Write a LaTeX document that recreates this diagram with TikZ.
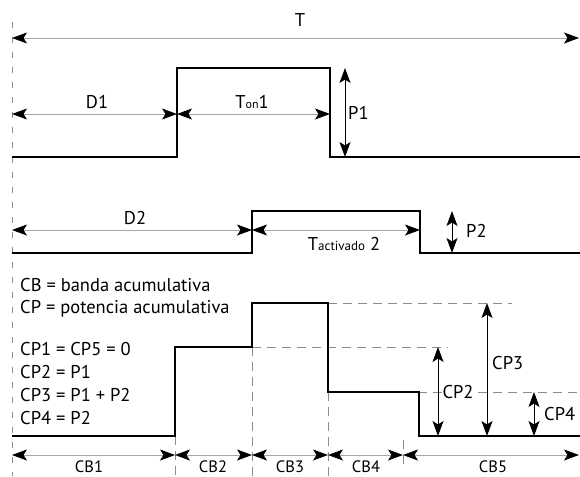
\documentclass[tikz,border=0pt]{standalone}
\usepackage{fontspec}
\setmainfont{PT Sans}
\usetikzlibrary{arrows.meta}

\tikzset{
  tip/.tip={Stealth[length=15pt,width=11pt,inset=3.5pt,black]},
}

\begin{document}
\begin{tikzpicture}[x=1pt,y=-1pt,
  wave/.style={line width=1.8pt, line join=miter},
  dimline/.style={draw=gray!70, line width=0.8pt, tip-tip},
  pline/.style={draw=black, line width=0.9pt, tip-tip},
  guide/.style={draw=gray!90, line width=0.8pt, dash pattern=on 9pt off 6pt},
  axisline/.style={draw=gray!90, line width=0.8pt, dash pattern=on 6pt off 9pt},
  lbl/.style={font=\fontsize{18.5}{22}\selectfont, inner sep=1pt},
  band/.style={font=\fontsize{16.5}{20}\selectfont, inner sep=0pt, anchor=base}]
	\useasboundingbox (0,0) rectangle (580,476);

	% time origin
	\draw[axisline] (12,22) -- (12,476);
	\draw[dimline] (12,38) -- (579,38);
	\node[lbl] (t) at (300,20) {T};

	% first pulse
	\draw[wave] (12,157) -- (177,157) -- (177,68) -- (330,68) -- (330,157) -- (580,157);
	\draw[dimline] (12,114) -- (177,114);
	\draw[dimline] (177,114) -- (330,114);
	\draw[pline] (345,68) -- (345,157);
	\node[lbl] (d1) at (97,102) {D1};
	\node[lbl] (ton) at (252,102) {T{\fontsize{12}{14}\selectfont on}1};
	\node[lbl, anchor=west] (p1) at (347,113) {P1};

	% second pulse
	\draw[wave] (12,253) -- (252,253) -- (252,211) -- (420,211) -- (420,253) -- (580,253);
	\draw[dimline] (12,230) -- (252,230);
	\draw[dimline] (252,230) -- (420,230);
	\draw[pline] (452,211) -- (452,253);
	\node[lbl] (d2) at (135,218) {D2};
	\node[lbl] (tact) at (344,244) {T{\fontsize{13}{15}\selectfont activado} 2};
	\node[lbl, anchor=west] (p2) at (465,231) {P2};

	% legend
	\node[lbl, anchor=west] (cb) at (19,285) {CB = banda acumulativa};
	\node[lbl, anchor=west] (cp) at (19,309) {CP = potencia acumulativa};
	\node[lbl, anchor=west] (cp1) at (19,349) {CP1 = CP5 = 0};
	\node[lbl, anchor=west] (cp2) at (19,372) {CP2 = P1};
	\node[lbl, anchor=west] (cp3) at (19,395) {CP3 = P1 + P2};
	\node[lbl, anchor=west] (cp4) at (19,418) {CP4 = P2};

	% accumulated power
	\draw[guide] (328,303) -- (512,303);
	\draw[guide] (252,347) -- (448,347);
	\draw[guide] (418,392) -- (580,392);
	\draw[guide] (175,436) -- (175,476);
	\draw[guide] (252,347) -- (252,476);
	\draw[guide] (328,392) -- (328,476);
	\draw[guide] (403,440) -- (403,470);
	\draw[wave] (12,436) -- (175,436) -- (175,347) -- (252,347) -- (252,303) -- (328,303)
		-- (328,392) -- (419,392) -- (419,436) -- (580,436);
	\draw[pline] (438,347) -- (438,436);
	\draw[pline] (487,303) -- (487,436);
	\draw[pline] (534,392) -- (534,436);
	\node[lbl, fill=white] (lcp2) at (458,392) {CP2};
	\node[lbl, anchor=west] (lcp3) at (491,363) {CP3};
	\node[lbl, anchor=west] (lcp4) at (543,414) {CP4};

	% bands
	\draw[dimline] (12,455) -- (175,455);
	\draw[dimline] (175,455) -- (252,455);
	\draw[dimline] (252,455) -- (328,455);
	\draw[dimline] (328,455) -- (403,455);
	\draw[dimline] (403,455) -- (579,455);
	\node[band] (cb1) at (89,472) {CB1};
	\node[band] (cb2) at (213,472) {CB2};
	\node[band] (cb3) at (290,472) {CB3};
	\node[band] (cb4) at (366,472) {CB4};
	\node[band] (cb5) at (493,472) {CB5};
\end{tikzpicture}
\end{document}
